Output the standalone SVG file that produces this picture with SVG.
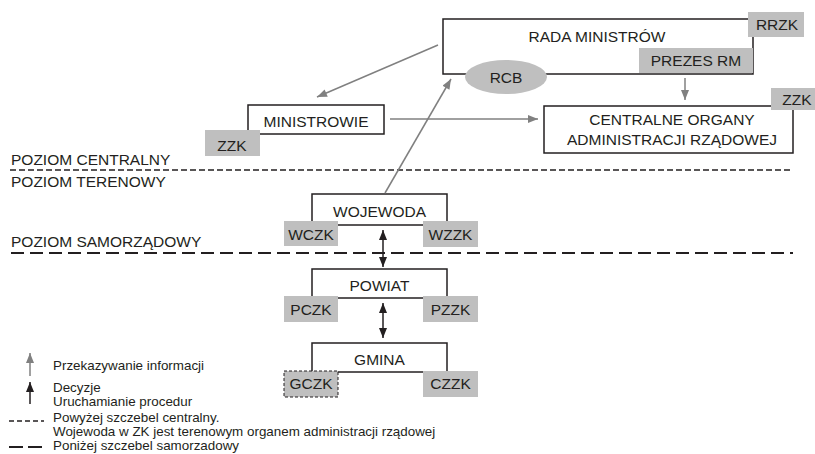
<svg xmlns="http://www.w3.org/2000/svg" width="815" height="454" viewBox="0 0 815 454">
<defs>
<style>
text{font-family:"Liberation Sans",Arial,sans-serif;fill:#231f20}
.t{font-size:15.5px}
.m{text-anchor:middle}
.l{font-size:13.4px}
.box{fill:#fff;stroke:#231f20;stroke-width:1.5}
.tag{fill:#bfbfbf;stroke:none}
.g{stroke:#808080;stroke-width:1.5;fill:none}
.k{stroke:#231f20;stroke-width:1.5;fill:none}
</style>
<marker id="ag" viewBox="0 0 10 8" refX="10" refY="4" markerWidth="11" markerHeight="8" markerUnits="userSpaceOnUse" orient="auto"><path d="M0,0L10,4L0,8z" fill="#808080"/></marker>
<marker id="ak" viewBox="0 0 10 8" refX="10" refY="4" markerWidth="11" markerHeight="8" markerUnits="userSpaceOnUse" orient="auto-start-reverse"><path d="M0,0L10,4L0,8z" fill="#231f20"/></marker>
</defs>

<g id="levels">
<line x1="10" y1="170" x2="793" y2="170" stroke="#231f20" stroke-width="1.5" stroke-dasharray="6,3"/>
<line x1="11" y1="253" x2="793" y2="253" stroke="#231f20" stroke-width="2" stroke-dasharray="13,6"/>
<text class="t" x="11" y="165">POZIOM CENTRALNY</text>
<text class="t" x="11" y="187">POZIOM TERENOWY</text>
<text class="t" x="11" y="247">POZIOM SAMORZĄDOWY</text>
</g>

<g id="rada">
<rect class="box" x="443" y="19" width="310" height="55"/>
<text class="t m" x="597" y="42">RADA MINISTRÓW</text>
<rect class="tag" x="748" y="12" width="56" height="25"/>
<text class="t m" x="777" y="30">RRZK</text>
<rect class="tag" x="639" y="48" width="114" height="25"/>
<text class="t m" x="696" y="66">PREZES RM</text>
</g>

<g id="rcb">
<ellipse cx="506" cy="77" rx="41" ry="17" fill="#bfbfbf"/>
<text class="t m" x="506" y="83">RCB</text>
</g>

<g id="ministrowie">
<rect class="box" x="248" y="105" width="136" height="29"/>
<text class="t m" x="316" y="127">MINISTROWIE</text>
<rect class="tag" x="205" y="130" width="55" height="26"/>
<text class="t m" x="232" y="151">ZZK</text>
</g>

<g id="centralne">
<rect class="box" x="544" y="106" width="249" height="47"/>
<text class="t m" x="672" y="125">CENTRALNE ORGANY</text>
<text class="t m" x="672" y="145">ADMINISTRACJI RZĄDOWEJ</text>
<rect class="tag" x="771" y="88" width="50" height="22"/>
<text class="t m" x="797" y="105">ZZK</text>
</g>

<g id="wojewoda">
<rect class="box" x="312" y="194" width="135" height="31"/>
<text class="t m" x="379.5" y="217">WOJEWODA</text>
<rect class="tag" x="284" y="221" width="54" height="25"/>
<text class="t m" x="311" y="240">WCZK</text>
<rect class="tag" x="423" y="221" width="55" height="26"/>
<text class="t m" x="450.5" y="240">WZZK</text>
</g>

<g id="powiat">
<rect class="box" x="312" y="269" width="135" height="29"/>
<text class="t m" x="379.5" y="291">POWIAT</text>
<rect class="tag" x="284" y="296" width="54" height="26"/>
<text class="t m" x="311" y="315">PCZK</text>
<rect class="tag" x="423" y="296" width="55" height="26"/>
<text class="t m" x="450.5" y="315">PZZK</text>
</g>

<g id="gmina">
<rect class="box" x="312" y="343" width="135" height="29"/>
<text class="t m" x="379.5" y="365">GMINA</text>
<rect x="284" y="371" width="54" height="26" fill="#bfbfbf" stroke="#231f20" stroke-width="1" stroke-dasharray="3,2"/>
<text class="t m" x="311" y="389">GCZK</text>
<rect class="tag" x="423" y="371" width="55" height="26"/>
<text class="t m" x="450.5" y="389">CZZK</text>
</g>

<g id="connectors">
<line class="g" x1="438" y1="45" x2="317" y2="97" marker-end="url(#ag)"/>
<line class="g" x1="685" y1="78" x2="685" y2="100" marker-end="url(#ag)"/>
<line class="g" x1="390" y1="119" x2="538" y2="119" marker-end="url(#ag)"/>
<line class="g" x1="385" y1="193" x2="451" y2="79" marker-end="url(#ag)"/>
<line class="k" x1="383" y1="230" x2="383" y2="267" marker-start="url(#ak)" marker-end="url(#ak)"/>
<line class="k" x1="383" y1="303" x2="383" y2="338" marker-start="url(#ak)" marker-end="url(#ak)"/>
</g>

<g id="legend">
<line class="g" x1="30" y1="376" x2="30" y2="353" marker-end="url(#ag)"/>
<text class="l" x="53" y="370">Przekazywanie informacji</text>
<line class="k" x1="30" y1="404" x2="30" y2="382" marker-end="url(#ak)"/>
<text class="l" x="53" y="392">Decyzje</text>
<text class="l" x="53" y="406">Uruchamianie procedur</text>
<line x1="9" y1="421" x2="44" y2="421" stroke="#231f20" stroke-width="1.3" stroke-dasharray="5,3"/>
<text class="l" x="53" y="422">Powyżej szczebel centralny.</text>
<text class="l" x="53" y="436">Wojewoda w ZK jest terenowym organem administracji rządowej</text>
<line x1="9" y1="447" x2="44" y2="447" stroke="#231f20" stroke-width="1.8" stroke-dasharray="14,5"/>
<text class="l" x="53" y="450">Poniżej szczebel samorzadowy</text>
</g>
</svg>
